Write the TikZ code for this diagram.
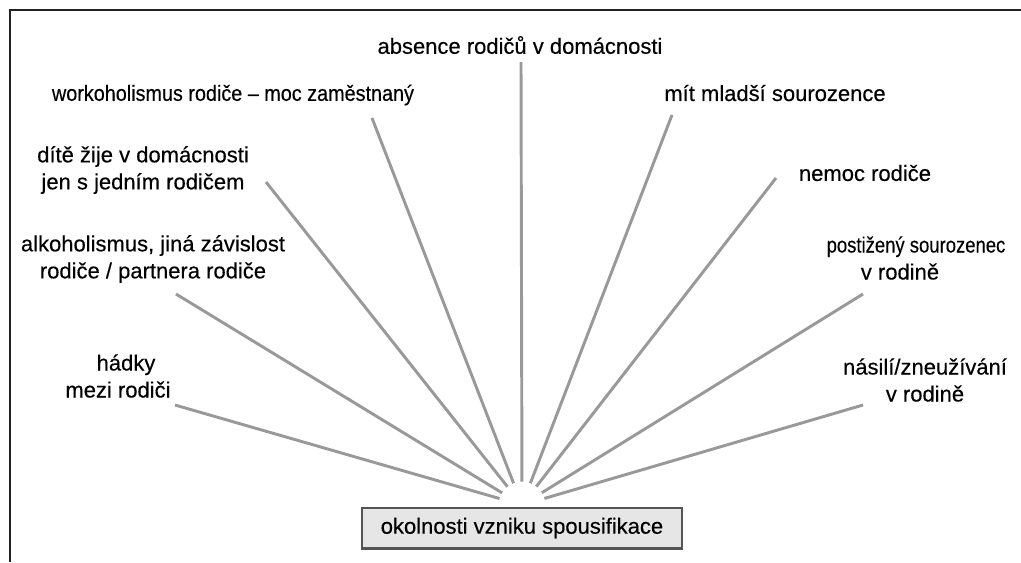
\documentclass[tikz,border=0pt]{standalone}
\usepackage{fontspec}
\setmainfont{Liberation Sans}[FakeBold=0.3]
\usetikzlibrary{calc}
\definecolor{raygray}{HTML}{999999}
\definecolor{boxfill}{HTML}{E6E6E6}
\definecolor{boxline}{HTML}{555555}
\definecolor{framecol}{HTML}{222222}
\begin{document}
\begin{tikzpicture}[x=0.75pt,y=-0.75pt,
  ray/.style={draw=raygray, line width=2.2pt},
  lab/.style={align=center, inner sep=0pt, text=black, font=\fontsize{16.5pt}{20.25pt}\selectfont},
  mainbox/.style={draw=boxline, fill=boxfill, line width=0.9pt, minimum width=240pt, minimum height=30pt, inner sep=0pt, font=\fontsize{16.5pt}{20pt}\selectfont},
  frameline/.style={draw=framecol, line width=1.5pt}]
\useasboundingbox (0,0) rectangle (1021,562);
\draw[frameline] (10,562) -- (10,10) -- (1021,10);

% labels
\node[lab] (l1) at (520,45) {absence rodičů v domácnosti};
\node[lab] (l2) at (233,95) {\scalebox{0.9}[1]{workoholismus rodiče – moc zaměstnaný}};
\node[lab] (l3) at (143,170) {dítě žije v domácnosti\\jen s jedním rodičem};
\node[lab] (l4) at (153,259) {alkoholismus, jiná závislost\\rodiče / partnera rodiče};
\node[lab] (l5) at (118,376) {\hspace*{12pt}hádky\\mezi rodiči};
\node[lab] (l6) at (775,93) {mít mladší sourozence};
\node[lab] (l7) at (865,173) {nemoc rodiče};
\node[lab] (l8) at (916,258) {\scalebox{0.84}[1]{postižený sourozenec}\\\hspace*{-24pt}v rodině};
\node[lab] (l9) at (925,380) {násilí/zneužívání\\v rodině};

% main box
\node[mainbox] (main) at (522,528) {okolnosti vzniku spousifikace};
\draw[boxline, line width=1.6pt] (main.south west) -- (main.south east);

% ray ends
\coordinate (c) at (522,505);
\coordinate (o1) at (521,62);
\coordinate (o2) at (372,118);
\coordinate (o3) at (266,182);
\coordinate (o4) at (176,294);
\coordinate (o5) at (175,405);
\coordinate (o6) at (672,115);
\coordinate (o7) at (776,178);
\coordinate (o8) at (863,294);
\coordinate (o9) at (863,405);

\foreach \i in {1,...,9}{
  \draw[ray] (o\i) -- ($(c)!17.5pt!(o\i)$);
}
\end{tikzpicture}
\end{document}
